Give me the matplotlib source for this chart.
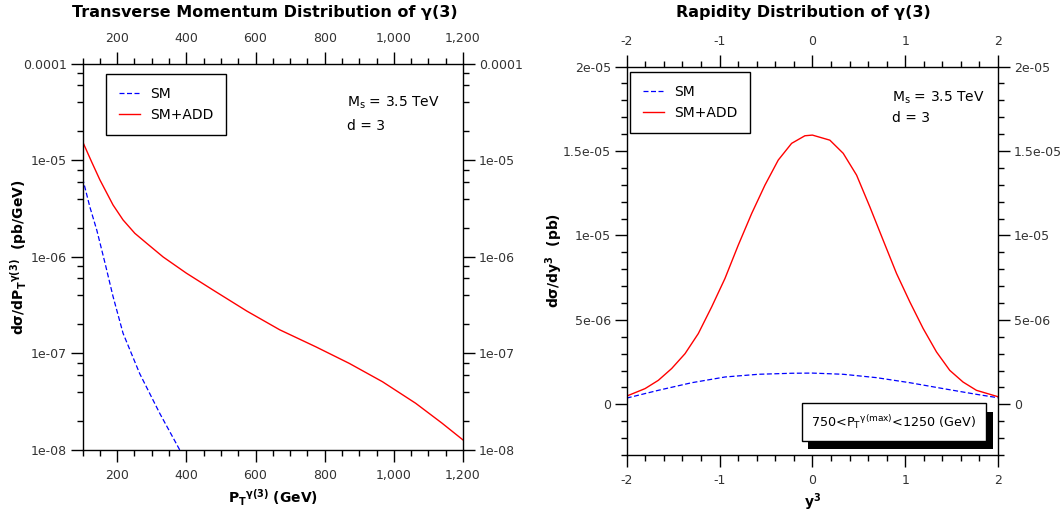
import numpy as np
import matplotlib
matplotlib.use('Agg')
import matplotlib.pyplot as plt
import matplotlib.patheffects as pe
from matplotlib.ticker import MultipleLocator, FixedLocator, FuncFormatter, NullFormatter

# transverse momentum distribution
pt = [100, 126, 150, 188, 217, 251, 285, 333, 400, 477, 575, 670, 775, 871, 967, 1063, 1139, 1200]
pt_add = [1.57e-5, 9.7e-6, 6.3e-6, 3.46e-6, 2.42e-6, 1.76e-6, 1.39e-6, 1.0e-6, 6.8e-7, 4.55e-7,
          2.75e-7, 1.76e-7, 1.17e-7, 7.9e-8, 5.1e-8, 3.05e-8, 1.9e-8, 1.27e-8]
pt_sm_x = [100, 121, 141, 165, 188, 217, 265, 323, 381]
pt_sm = [6.55e-6, 3.3e-6, 1.9e-6, 8.6e-7, 3.9e-7, 1.62e-7, 6.2e-8, 2.4e-8, 1.0e-8]

# rapidity distribution
y_add_x = [-2.0, -1.803, -1.66, -1.516, -1.372, -1.229, -1.085, -0.942, -0.799, -0.654, -0.511,
           -0.368, -0.224, -0.081, 0.0, 0.188, 0.332, 0.476, 0.619, 0.762, 0.906, 1.05,
           1.193, 1.337, 1.48, 1.623, 1.767, 2.0]
y_add = [0.49e-6, 0.93e-6, 1.42e-6, 2.12e-6, 3.0e-6, 4.19e-6, 5.77e-6, 7.45e-6, 9.42e-6, 1.13e-5,
         1.298e-5, 1.446e-5, 1.545e-5, 1.59e-5, 1.594e-5, 1.564e-5, 1.486e-5, 1.357e-5, 1.169e-5,
         9.72e-6, 7.75e-6, 6.06e-6, 4.49e-6, 3.1e-6, 2.01e-6, 1.32e-6, 0.83e-6, 0.45e-6]
y_sm_x = [-2.0, -1.66, -1.30, -0.94, -0.58, -0.22, 0.0, 0.33, 0.69, 1.05, 1.41, 1.77, 2.0]
y_sm = [0.37e-6, 0.83e-6, 1.28e-6, 1.62e-6, 1.78e-6, 1.84e-6, 1.85e-6, 1.78e-6, 1.58e-6,
        1.28e-6, 0.93e-6, 0.59e-6, 0.39e-6]

plt.rcParams['font.family'] = 'DejaVu Sans'
plt.rcParams['mathtext.fontset'] = 'dejavusans'

fig = plt.figure(figsize=(10.63, 5.16), dpi=100)
ax1 = fig.add_axes([0.0777, 0.1279, 0.3579, 0.7481])
ax2 = fig.add_axes([0.5896, 0.1182, 0.3493, 0.7529])


def style_ticks(ax):
    ax.tick_params(which='both', direction='out', top=True, right=True,
                   labeltop=True, labelright=True, labelsize=9, labelcolor='#333333')
    ax.tick_params(which='major', length=8.5, width=1, color='black')
    ax.tick_params(which='minor', length=4.5, width=1, color='black')
    ax.tick_params(axis='x', which='both', pad=5)
    ax.tick_params(axis='y', which='both', pad=3)
    for s in ax.spines.values():
        s.set_color('black')
        s.set_linewidth(1)


def add_legend(ax, anchor):
    leg = ax.legend(loc='upper left', bbox_to_anchor=anchor, borderaxespad=0,
                    fontsize=10, fancybox=False, edgecolor='black', framealpha=1,
                    handlelength=1.5, handletextpad=0.7, borderpad=0.95, labelspacing=0.5)
    leg.get_frame().set_linewidth(1)
    return leg


# left panel
ax1.plot(pt_sm_x, pt_sm, color='blue', ls='--', lw=0.9, dashes=(4, 2), label='SM')
ax1.plot(pt, pt_add, color='red', lw=1.0, label='SM+ADD')
ax1.set_yscale('log')
ax1.set_xlim(100, 1200)
ax1.set_ylim(1e-8, 1e-4)
ax1.xaxis.set_major_locator(FixedLocator([200, 400, 600, 800, 1000, 1200]))
ax1.xaxis.set_minor_locator(MultipleLocator(50))
ax1.xaxis.set_major_formatter(FuncFormatter(lambda v, p: f'{v:,.0f}'))
ax1.yaxis.set_major_locator(FixedLocator([1e-8, 1e-7, 1e-6, 1e-5, 1e-4]))
ax1.yaxis.set_minor_locator(FixedLocator([m * 10.0**e for e in range(-8, -4) for m in (2, 4, 6, 8)]))
ax1.yaxis.set_major_formatter(FuncFormatter(lambda v, p: f'{v:g}'))
ax1.yaxis.set_minor_formatter(NullFormatter())
style_ticks(ax1)
ax1.set_title('Transverse Momentum Distribution of γ(3)', fontsize=11.5,
              fontweight='bold', pad=33.5, x=0.478)
ax1.set_xlabel(r'P$_\mathbf{T}$$^\mathbf{\gamma(3)}$ (GeV)', fontsize=10, fontweight='bold', labelpad=4)
ax1.set_ylabel(r'dσ/dP$_\mathbf{T}$$^\mathbf{\gamma(3)}$  (pb/GeV)', fontsize=10, fontweight='bold', labelpad=-4.5)
ax1.text(0.695, 0.899, r'M$_\mathregular{s}$ = 3.5 TeV', transform=ax1.transAxes, fontsize=10, va='center')
ax1.text(0.695, 0.839, 'd = 3', transform=ax1.transAxes, fontsize=10, va='center')
add_legend(ax1, (0.0615, 0.974))

# right panel
ax2.plot(y_sm_x, y_sm, color='blue', ls='--', lw=0.9, dashes=(4, 2), label='SM')
ax2.plot(y_add_x, y_add, color='red', lw=1.0, label='SM+ADD')
ax2.set_xlim(-2, 2)
ax2.set_ylim(-3e-6, 2e-5)
ax2.xaxis.set_major_locator(MultipleLocator(1))
ax2.xaxis.set_minor_locator(MultipleLocator(0.2))
ax2.xaxis.set_major_formatter(FuncFormatter(lambda v, p: f'{v:g}'))
ax2.yaxis.set_major_locator(FixedLocator([0, 5e-6, 1e-5, 1.5e-5, 2e-5]))
ax2.yaxis.set_minor_locator(MultipleLocator(1e-6))
ax2.yaxis.set_major_formatter(FuncFormatter(lambda v, p: f'{v:g}'))
style_ticks(ax2)
ax2.set_title('Rapidity Distribution of γ(3)', fontsize=11.5, fontweight='bold', pad=36, x=0.477)
ax2.set_xlabel(r'y$^\mathbf{3}$', fontsize=10, fontweight='bold', labelpad=3)
ax2.set_ylabel(r'dσ/dy$^\mathbf{3}$  (pb)', fontsize=10, fontweight='bold', labelpad=-2)
ax2.text(0.714, 0.919, r'M$_\mathregular{s}$ = 3.5 TeV', transform=ax2.transAxes, fontsize=10, va='center')
ax2.text(0.714, 0.867, 'd = 3', transform=ax2.transAxes, fontsize=10, va='center')
add_legend(ax2, (0.009, 0.986))

t = ax2.text(0.72, 0.085, r'750<P$_\mathregular{T}$$^\mathregular{\gamma(max)}$<1250 (GeV)',
             transform=ax2.transAxes, fontsize=9.2, ha='center', va='center',
             bbox=dict(boxstyle='square,pad=0.75', fc='white', ec='black', lw=1))
t.get_bbox_patch().set_path_effects([
    pe.SimplePatchShadow(offset=(4.5, -6), shadow_rgbFace='black', alpha=1),
    pe.Normal()])

fig.savefig('out.png', dpi=100)
